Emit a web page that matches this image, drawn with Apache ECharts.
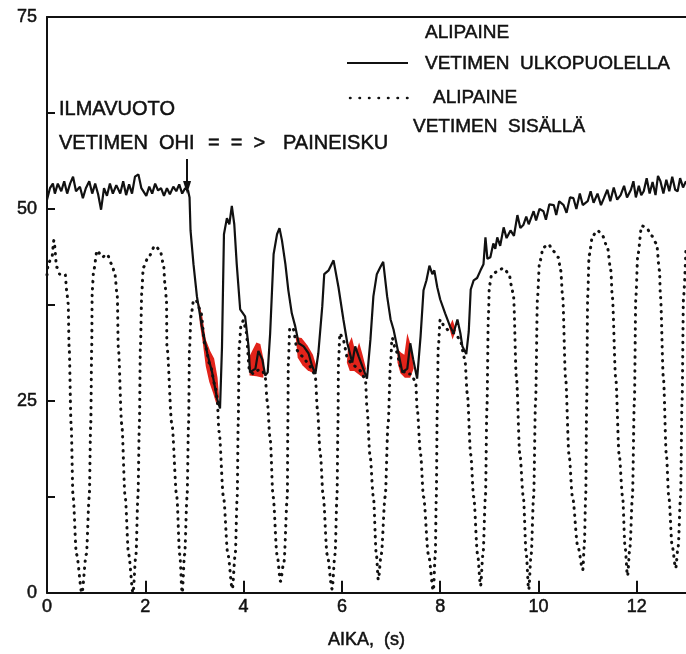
<!DOCTYPE html>
<html>
<head>
    <meta charset="utf-8">
    <title>Alipaine</title>
    <script src="https://cdn.jsdelivr.net/npm/echarts@6/dist/echarts.min.js"></script>
    <style>
        html, body { margin: 0; padding: 0; background: #fff; }
        #chart1 { width: 686px; height: 654px; }
    </style>
</head>
<body>
<div id="chart1"></div>
<script type="text/javascript">
    // akselien jaot
    var xLabels = [0, 2, 4, 6, 8, 10, 12];
    var xTicks = [2, 4, 6, 8, 10, 12];
    var yLabels = [0, 25, 50, 75];
    var yTicks = [12.5, 25, 37.5, 50, 62.5];

    // alipaine vetimen ulkopuolella (yhtenäinen viiva)
    var outerPressure = [
        [0, 51.2], [0.06, 52.7], [0.12, 53.3], [0.16, 52], [0.22, 53.3], [0.29, 52.3], [0.35, 53.6],
        [0.41, 52], [0.47, 53.3], [0.53, 54.2], [0.59, 52.3], [0.67, 52.9], [0.73, 51.4], [0.79, 52.7],
        [0.86, 53.6], [0.92, 52], [0.98, 53.3], [1.04, 51.9], [1.1, 49.9], [1.16, 52.7], [1.22, 51.7],
        [1.28, 53.3], [1.34, 52], [1.41, 53.1], [1.49, 52], [1.55, 53.6], [1.61, 51.8], [1.67, 53.2],
        [1.73, 52], [1.79, 54.2], [1.86, 54.5], [1.92, 52.7], [2.02, 51.7], [2.08, 52.9], [2.14, 52],
        [2.2, 53.3], [2.26, 52.4], [2.32, 52.7], [2.38, 51.7], [2.44, 52.7], [2.5, 51.9], [2.57, 52.9],
        [2.63, 52.3], [2.69, 53.2], [2.75, 52], [2.81, 52.7], [2.87, 52.4], [2.9, 51.5],
        [2.92, 47.2], [2.98, 42.8], [3.05, 38.6], [3.15, 34.7], [3.26, 31.2], [3.36, 28.7], [3.46, 25.3],
        [3.52, 24], [3.56, 32], [3.6, 46.7], [3.66, 48.8], [3.71, 48], [3.76, 50.4], [3.81, 48],
        [3.86, 42.8], [3.93, 36.9], [4.03, 36], [4.1, 32.1], [4.13, 28.7], [4.24, 29.2], [4.3, 31.5],
        [4.38, 30.4], [4.44, 28.3], [4.49, 28.7], [4.54, 33.8], [4.61, 44.1], [4.68, 46.7], [4.73, 47.5],
        [4.78, 45.9], [4.85, 42.8], [4.91, 39.4], [4.98, 36.4], [5.05, 34.7], [5.12, 32.5], [5.22, 32.1],
        [5.32, 31.2], [5.39, 29.6], [5.46, 28.5], [5.52, 31.2], [5.6, 37.3], [5.64, 41.5], [5.73, 42],
        [5.83, 43.3], [5.93, 39.8], [6.03, 35.6], [6.11, 32.5], [6.21, 30], [6.27, 32.1], [6.34, 30.8],
        [6.41, 29.6], [6.51, 27.9], [6.58, 33], [6.64, 38.6], [6.71, 41.5], [6.78, 42.4], [6.84, 43.1],
        [6.92, 38.6], [6.99, 35.6], [7.05, 34.3], [7.15, 31.2], [7.23, 28.7], [7.33, 29.2], [7.39, 32.5],
        [7.45, 30.4], [7.53, 27.9], [7.6, 33.4], [7.66, 39.4], [7.72, 40.7], [7.78, 42.6], [7.84, 41.5],
        [7.88, 42], [7.94, 39.8], [8.0, 38.2], [8.1, 36.4], [8.2, 34.7], [8.27, 33.8], [8.35, 35.6],
        [8.41, 33.8], [8.45, 32.1], [8.53, 31.1], [8.58, 34], [8.62, 39.5], [8.68, 40.7], [8.75, 41],
        [8.82, 42], [8.88, 42.8], [8.92, 46.3], [8.96, 43.5], [9.02, 43.7], [9.08, 45.5], [9.12, 44.8],
        [9.16, 46.3], [9.22, 45.2], [9.29, 47.6], [9.35, 46.2], [9.43, 47.2], [9.5, 46.5], [9.57, 49.2],
        [9.63, 47.5], [9.69, 47.9], [9.75, 49], [9.8, 48], [9.9, 49.7], [9.95, 48.5], [10.02, 50],
        [10.1, 49.7], [10.15, 48.6], [10.22, 50.6], [10.31, 50.5], [10.36, 49.2], [10.42, 51], [10.51, 50.5],
        [10.57, 49.5], [10.64, 51.5], [10.71, 51.4], [10.77, 50], [10.84, 52], [10.9, 50.5], [11.0, 51],
        [11.06, 52.3], [11.12, 50.8], [11.2, 52], [11.27, 50.5], [11.33, 51.4], [11.4, 52.5], [11.46, 51],
        [11.53, 52.8], [11.6, 51.2], [11.67, 51.8], [11.74, 53], [11.8, 51.5], [11.88, 52.5], [11.93, 53.6],
        [11.98, 51.5], [12.04, 53], [12.09, 51.8], [12.14, 52.3], [12.2, 54], [12.26, 52], [12.32, 53.5],
        [12.38, 51.8], [12.43, 54.3], [12.48, 53.6], [12.54, 52], [12.6, 53.8], [12.66, 52.3], [12.72, 54.2],
        [12.78, 52.5], [12.83, 52.3], [12.88, 54], [12.94, 52.8], [13, 53.6]
    ];

    // alipaine vetimen sisällä (pisteviiva)
    var innerPressure = [
        [0, 41.4], [0.03, 43], [0.1, 43.7], [0.14, 45.9], [0.2, 42.4], [0.26, 41.5], [0.37, 41.5], [0.4, 39.4], [0.43, 37.7],
        [0.45, 32], [0.49, 22], [0.53, 12.5], [0.6, 5], [0.71, 0], [0.8, 5], [0.86, 12.5], [0.89, 22], [0.91, 32],
        [0.92, 39.4], [0.95, 42], [1.02, 44.6], [1.12, 43.7], [1.22, 44.1], [1.32, 42.8], [1.38, 41.5], [1.43, 38.6],
        [1.45, 32], [1.52, 22], [1.59, 12.5], [1.66, 5], [1.75, 0], [1.81, 5], [1.85, 12.5], [1.88, 22], [1.9, 32],
        [1.93, 39.4], [1.96, 42.4], [2.06, 43.7], [2.2, 45.2], [2.3, 44.6], [2.37, 42.8], [2.4, 40.2], [2.43, 38.2],
        [2.44, 32], [2.54, 22], [2.64, 12.5], [2.7, 5], [2.75, 0], [2.8, 5], [2.85, 12.5], [2.88, 22], [2.9, 32],
        [2.93, 36], [2.98, 38], [3.02, 38.2], [3.12, 36.9], [3.22, 32.1], [3.32, 29.6], [3.42, 27], [3.46, 25.3],
        [3.5, 21], [3.59, 12.5], [3.68, 5], [3.77, 0.5], [3.83, 5], [3.87, 12.5], [3.89, 22], [3.91, 32],
        [3.95, 35], [4.0, 35.5], [4.05, 34], [4.12, 29], [4.2, 28.5], [4.3, 29], [4.38, 29], [4.44, 28],
        [4.48, 25], [4.54, 20], [4.6, 12.5], [4.68, 5], [4.75, 1.5], [4.82, 4], [4.89, 12.5], [4.9, 22], [4.91, 30],
        [4.94, 34.5], [5.0, 34.5], [5.1, 31.5], [5.2, 30.8], [5.3, 30], [5.4, 29], [5.46, 28],
        [5.5, 24], [5.56, 18], [5.62, 12.5], [5.7, 5], [5.8, 0.5], [5.86, 5], [5.9, 12.5], [5.92, 22], [5.93, 30],
        [5.96, 33.8], [6.02, 33], [6.12, 30.5], [6.2, 29.8], [6.3, 29.4], [6.4, 28.8], [6.48, 27.5],
        [6.51, 24], [6.57, 18], [6.64, 12.5], [6.7, 5], [6.74, 1.7], [6.8, 5], [6.88, 12.5], [6.94, 22], [6.99, 30],
        [7.02, 33.2], [7.1, 31.5], [7.2, 29.5], [7.3, 28.5], [7.4, 28.5], [7.5, 27.5],
        [7.53, 24], [7.6, 18], [7.66, 12.5], [7.76, 5], [7.86, 0.3], [7.9, 5], [7.92, 12.5], [7.94, 24], [7.96, 32],
        [8.0, 35.6], [8.1, 34.5], [8.2, 34], [8.3, 33.8], [8.4, 33], [8.5, 30.5],
        [8.55, 26], [8.62, 18], [8.68, 12.5], [8.76, 5], [8.82, 0.9], [8.87, 5], [8.92, 12.5], [8.95, 24], [8.98, 36],
        [9.0, 40], [9.05, 41.5], [9.15, 41.8], [9.29, 42.3], [9.4, 41.5], [9.45, 40], [9.49, 38.6],
        [9.55, 28], [9.62, 18], [9.69, 12.5], [9.75, 5], [9.8, 0.4], [9.85, 5], [9.9, 12.5], [9.94, 25], [9.98, 38.6],
        [10.02, 43], [10.1, 45], [10.2, 45.4], [10.3, 44.5], [10.4, 43.7], [10.45, 42], [10.49, 38.6],
        [10.55, 28], [10.62, 18], [10.69, 12.5], [10.8, 6], [10.9, 3], [10.93, 6], [10.96, 12.5], [10.98, 25], [11.0, 38.6],
        [11.03, 44], [11.1, 46.5], [11.2, 47.2], [11.3, 46.5], [11.4, 45], [11.47, 42], [11.5, 38.6],
        [11.57, 28], [11.64, 18], [11.71, 12.5], [11.76, 6], [11.81, 2.2], [11.86, 6], [11.91, 12.5], [11.95, 25], [11.98, 38.6],
        [12.02, 44], [12.1, 47.8], [12.2, 47.5], [12.3, 46.5], [12.4, 45.5], [12.46, 42], [12.48, 38.6],
        [12.54, 28], [12.6, 18], [12.65, 12.5], [12.72, 6], [12.79, 3.2], [12.84, 6], [12.89, 12.5], [12.92, 25], [12.95, 38.6], [13.0, 45]
    ];

    // punaiset alueet käyrien välissä
    var redPatches = [
        [[3.08, 38], [3.16, 36], [3.23, 33], [3.32, 31.5], [3.4, 30.5], [3.47, 28], [3.5, 25.5], [3.45, 24.5], [3.38, 26], [3.3, 27.5], [3.23, 29.5], [3.17, 32.5], [3.11, 35]],
        [[4.12, 28.3], [4.12, 30.8], [4.18, 31.6], [4.26, 32.6], [4.34, 32.4], [4.42, 30], [4.4, 28], [4.26, 28.2]],
        [[5.06, 33.3], [5.18, 33.2], [5.3, 32.2], [5.41, 31], [5.48, 29.5], [5.42, 28.6], [5.3, 29], [5.2, 29.6], [5.1, 30.6]],
        [[6.1, 30], [6.13, 32.3], [6.2, 33.3], [6.25, 32], [6.3, 31.6], [6.35, 32.6], [6.42, 31], [6.49, 29.2], [6.45, 27.9], [6.35, 28.4], [6.25, 28.9], [6.16, 28.9]],
        [[7.13, 31.8], [7.2, 31.3], [7.27, 31], [7.33, 33.8], [7.41, 32], [7.46, 29.2], [7.39, 28], [7.28, 28], [7.19, 28.6], [7.13, 30]],
        [[8.18, 34.6], [8.25, 35.6], [8.32, 34.2], [8.25, 33]]
    ];

    var font = '"Liberation Sans", Arial, sans-serif';
    var ink = '#111';

    var myChart1 = echarts.init(document.getElementById('chart1'));

    function txt(text, x, y, size) {
        return {
            type: 'text', x: x, y: y,
            style: {
                text: text, font: size + 'px ' + font, fill: ink,
                stroke: ink, lineWidth: 0.5,
                textVerticalAlign: 'middle', verticalAlign: 'middle'
            }
        };
    }

    var labelStyle = { color: ink, fontSize: 18, fontFamily: font, textBorderColor: ink, textBorderWidth: 0.5 };

    myChart1.setOption({
        animation: false,
        grid: { left: 47, right: 0, top: 17, bottom: 54 },
        xAxis: [{
            type: 'value', min: 0, max: 13,
            axisLine: { lineStyle: { color: ink, width: 2 } },
            axisTick: { inside: true, length: 12, customValues: xTicks, lineStyle: { color: ink, width: 2 } },
            axisLabel: Object.assign({ customValues: xLabels, margin: 5 }, labelStyle),
            splitLine: { show: false },
            name: 'AIKA,  (s)', nameLocation: 'middle', nameGap: 38,
            nameTextStyle: labelStyle
        }, {
            type: 'value', min: 0, max: 13, position: 'top',
            axisLine: { lineStyle: { color: ink, width: 2 } },
            axisTick: { show: false }, axisLabel: { show: false }, splitLine: { show: false }
        }],
        yAxis: {
            type: 'value', min: 0, max: 75,
            axisLine: { lineStyle: { color: ink, width: 2 } },
            axisTick: { inside: true, length: 8, customValues: yTicks, lineStyle: { color: ink, width: 2 } },
            axisLabel: Object.assign({ customValues: yLabels, margin: 10 }, labelStyle),
            splitLine: { show: false }
        },
        series: [{
            name: 'punainen',
            type: 'custom',
            z: 1,
            data: redPatches.map(function (p) { return p[0]; }),
            renderItem: function (params, api) {
                var pts = redPatches[params.dataIndex].map(function (pt) { return api.coord(pt); });
                return { type: 'polygon', shape: { points: pts }, style: { fill: '#e2231a' } };
            }
        }, {
            name: 'sisällä',
            type: 'line',
            z: 2,
            data: innerPressure,
            showSymbol: false,
            smooth: 0.3,
            smoothMonotone: 'x',
            lineStyle: { color: ink, width: 3, type: [0.5, 6.5], cap: 'round' }
        }, {
            name: 'ulkopuolella',
            type: 'line',
            z: 3,
            data: outerPressure,
            showSymbol: false,
            lineStyle: { color: ink, width: 2.2 },
            markLine: {
                silent: true,
                symbol: ['none', 'triangle'],
                symbolSize: [8, 13],
                label: { show: false },
                lineStyle: { color: ink, width: 2, type: 'solid' },
                data: [[{ coord: [2.85, 56.5] }, { coord: [2.85, 52.8] }]]
            }
        }],
        graphic: [
            txt('ALIPAINE', 425, 33, 19),
            { type: 'line', shape: { x1: 347, y1: 63, x2: 408, y2: 63 }, style: { stroke: ink, lineWidth: 2 } },
            txt('VETIMEN  ULKOPUOLELLA', 425, 64, 19),
            { type: 'line', shape: { x1: 350, y1: 98, x2: 416, y2: 98 }, style: { stroke: ink, lineWidth: 2.5, lineDash: [0.5, 9], lineCap: 'round' } },
            txt('ALIPAINE', 433, 98, 19),
            txt('VETIMEN  SISÄLLÄ', 413, 127, 19),
            txt('ILMAVUOTO', 59, 109, 20),
            txt('VETIMEN  OHI', 59, 143, 20),
            txt('=  =  >', 208, 143, 20),
            txt('PAINEISKU', 283, 143, 20)
        ]
    });
</script>
</body>
</html>
